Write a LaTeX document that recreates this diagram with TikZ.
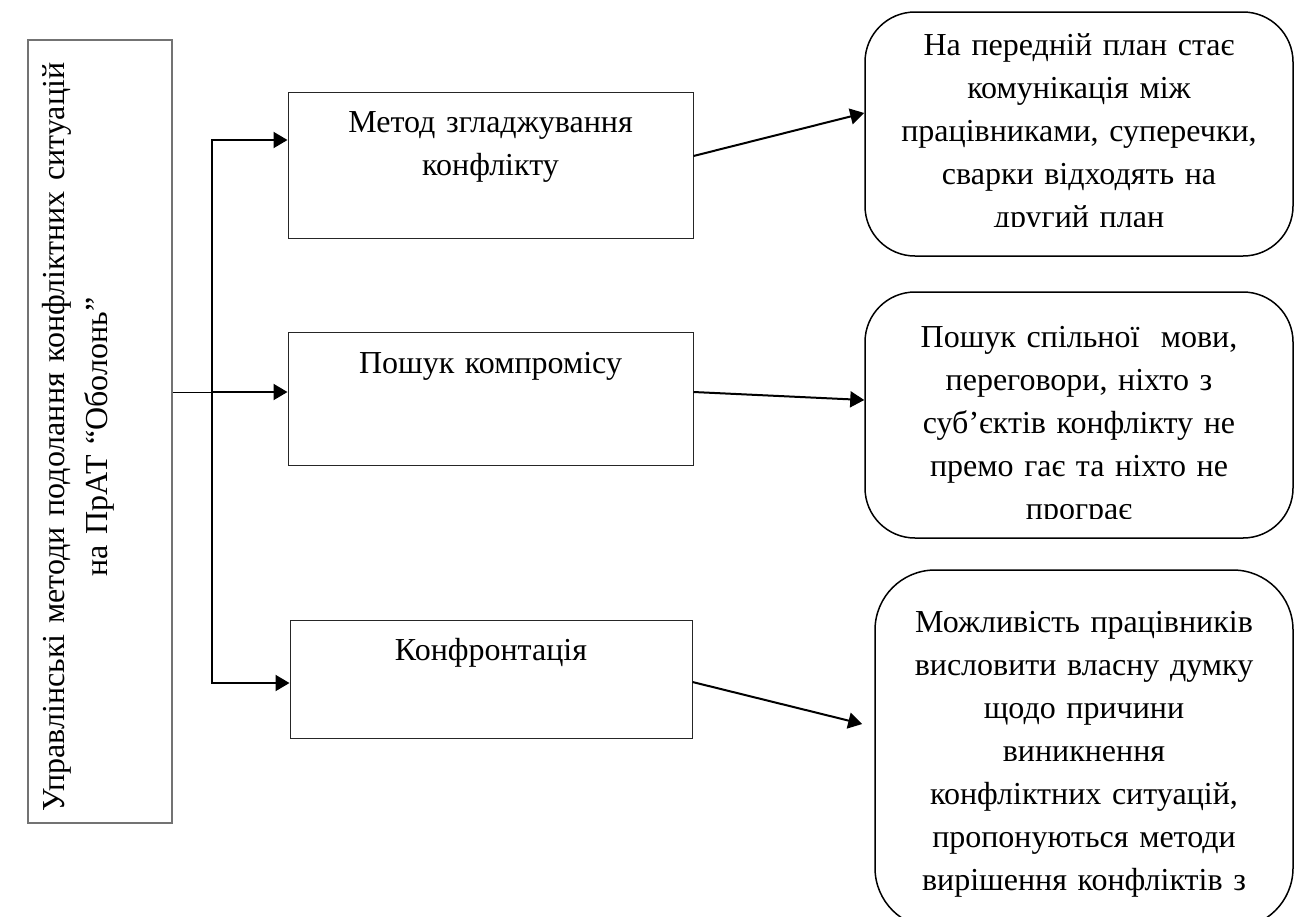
\documentclass[tikz,border=0pt]{standalone}
\usepackage{fontspec}
\setmainfont{Liberation Serif}
\usetikzlibrary{arrows.meta}
\begin{document}
\begin{tikzpicture}[x=0.5pt,y=-0.5pt,
  leftbox/.style={draw=black!55, line width=0.75pt, inner sep=0pt},
  rectbox/.style={draw=black!85, line width=0.5pt, inner sep=0pt},
  roundbox/.style={draw=black, line width=0.75pt, inner sep=0pt},
  txt/.style={font=\fontsize{16pt}{21.5pt}\selectfont, align=center, inner sep=0pt},
  conn/.style={line width=1pt, draw=black},
  thinconn/.style={line width=0.5pt, draw=black},
  tip/.style={-{Triangle[length=7pt,width=8pt]}}
]
\useasboundingbox (0,0) rectangle (1299,916);

% left box
\node[leftbox, minimum width=72pt, minimum height=391.5pt] (L) at (100,431.5) {};
\node[txt, rotate=90, anchor=base, text width=420pt] (Lt) at (64,437)
  {Управлінські методи подолання конфліктних ситуацій\\на ПрАТ “Оболонь”};

% middle boxes
\node[rectbox, minimum width=202.5pt, minimum height=73pt] (b1) at (490.5,165) {};
\node[rectbox, minimum width=202.5pt, minimum height=66.5pt] (b2) at (490.5,398.5) {};
\node[rectbox, minimum width=201pt, minimum height=59pt] (b3) at (491,679) {};
\node[txt, anchor=base, text width=190pt] (b1t) at (490.5,132) {Метод згладжування\\конфлікту};
\node[txt, anchor=base, text width=190pt] (b2t) at (490.5,373) {Пошук компромісу};
\node[txt, anchor=base, text width=190pt] (b3t) at (491,660) {Конфронтація};

% right rounded boxes
\node[roundbox, rounded corners=25pt, minimum width=214pt, minimum height=122pt] (A) at (1079,134) {};
\node[roundbox, rounded corners=25pt, minimum width=214pt, minimum height=123pt] (B) at (1079,415) {};
\node[roundbox, rounded corners=30pt, minimum width=209pt, minimum height=179pt] (C) at (1084,749) {};

\begin{scope}
\clip (866,13) rectangle (1292,226);
\node[txt, anchor=base, text width=205pt] (At) at (1079,55)
  {На передній план стає\\комунікація між\\працівниками, суперечки,\\сварки відходять на\\другий план};
\end{scope}
\begin{scope}
\clip (866,293) rectangle (1292,518);
\node[txt, anchor=base, text width=205pt] (Bt) at (1079,347)
  {Пошук спільної~ мови,\\переговори, ніхто з\\суб’єктів конфлікту не\\премо гає та ніхто не\\програє};
\end{scope}
\node[txt, anchor=base, text width=205pt] (Ct) at (1084,632)
  {Можливість працівників\\висловити власну думку\\щодо причини\\виникнення\\конфліктних ситуацій,\\пропонуються методи\\вирішення конфліктів з};

% connectors
\coordinate (j1) at (212,140);
\coordinate (j2) at (212,392);
\coordinate (j3) at (212,683);
\draw[thinconn] (j2 -| L.east) -- (j2);
\draw[conn, tip] (j2) -- (j2 -| b2.west);
\draw[conn, {Triangle[length=7pt,width=8pt]}-{Triangle[length=7pt,width=8pt]}]
  (j3 -| b3.west) -- (j3) -- (j1) -- (j1 -| b1.west);

\draw[conn, tip] ([yshift=4.5pt]b1.east) -- ([yshift=10.5pt]A.west);
\draw[conn, tip] ([yshift=3.25pt]b2.east) -- ([yshift=7.5pt]B.west);
\draw[conn, tip] ([yshift=-1.5pt]b3.east) -- ([shift={(-6pt,12.5pt)}]C.west);
\end{tikzpicture}
\end{document}
